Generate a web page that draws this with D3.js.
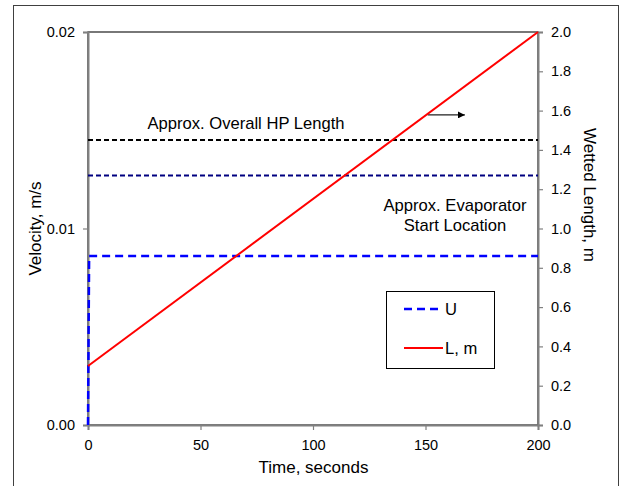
<!DOCTYPE html>
<html>
<head>
<meta charset="utf-8">
<script src="https://cdn.jsdelivr.net/npm/d3@7"></script>
<style>
  html, body { margin: 0; padding: 0; background: #fff; }
  svg { display: block; font-family: "Liberation Sans", Arial, sans-serif; }
</style>
</head>
<body>
<svg id="chart" width="623" height="486"></svg>
<script>
// Wetted length grows linearly with time
const lenTime = [0, 200];
const wettedLength = [0.3, 2.0];

// Velocity steps up at start and stays constant
const velTime = [0, 0.5, 200];
const velocity = [0, 0.0086, 0.0086];

// Reference lengths (right axis, m)
const refNames = ["Approx. Overall HP Length", "Approx. Evaporator Start Location"];
const refValues = [1.45, 1.27];

// Axis ticks
const xTicks = [0, 50, 100, 150, 200];
const yLeftTicks = [0, 0.01, 0.02];
const yRightTicks = [0, 0.2, 0.4, 0.6, 0.8, 1.0, 1.2, 1.4, 1.6, 1.8, 2.0];

// Legend entries
const legendNames = ["U", "L, m"];

const svg = d3.select("#chart");
const plot = { left: 88, right: 538, top: 32, bottom: 425 };

const x = d3.scaleLinear().domain([0, 200]).range([plot.left, plot.right]);
const yL = d3.scaleLinear().domain([0, 0.02]).range([plot.bottom, plot.top]);
const yR = d3.scaleLinear().domain([0, 2.0]).range([plot.bottom, plot.top]);

// Outer chart frame
svg.append("rect")
  .attr("x", 13.5).attr("y", 5.5).attr("width", 605).attr("height", 500)
  .attr("fill", "none").attr("stroke", "#404040").attr("stroke-width", 1);

// Plot-area frame
svg.append("rect")
  .attr("x", plot.left).attr("y", plot.top)
  .attr("width", plot.right - plot.left).attr("height", plot.bottom - plot.top)
  .attr("fill", "none").attr("stroke", "#303030").attr("stroke-width", 1.3);

// Axes
function styleAxis(g) {
  g.selectAll(".domain").attr("stroke", "#808080").attr("stroke-width", 2);
  g.selectAll(".tick line").attr("stroke", "#808080").attr("stroke-width", 1.2);
  g.selectAll(".tick text").attr("fill", "#000").attr("font-size", 14.5)
    .attr("font-family", "Liberation Sans, Arial, sans-serif");
}

svg.append("g")
  .attr("transform", `translate(0,${plot.bottom})`)
  .call(d3.axisBottom(x).tickValues(xTicks).tickFormat(d3.format("d")).tickSizeOuter(0).tickSize(5).tickPadding(10))
  .call(styleAxis);

svg.append("g")
  .attr("transform", `translate(${plot.left},0)`)
  .call(d3.axisLeft(yL).tickValues(yLeftTicks).tickFormat(d3.format(".2f")).tickSizeOuter(0).tickSize(5).tickPadding(8))
  .call(styleAxis);

svg.append("g")
  .attr("transform", `translate(${plot.right},0)`)
  .call(d3.axisRight(yR).tickValues(yRightTicks).tickFormat(d3.format(".1f")).tickSizeOuter(0).tickSize(5).tickPadding(8))
  .call(styleAxis);

// Axis titles
svg.append("text")
  .attr("x", (plot.left + plot.right) / 2 + 0.5).attr("y", 473)
  .attr("text-anchor", "middle").attr("font-size", 17).text("Time, seconds");

svg.append("text")
  .attr("transform", `translate(41,${(plot.top + plot.bottom) / 2}) rotate(-90)`)
  .attr("text-anchor", "middle").attr("font-size", 17).text("Velocity, m/s");

svg.append("text")
  .attr("transform", `translate(584,195) rotate(90)`)
  .attr("text-anchor", "middle").attr("font-size", 17).text("Wetted Length, m");

// Reference lines
const refStyles = [
  { color: "#000000", dash: "5,3", width: 2 },
  { color: "#000080", dash: "5,3", width: 2 }
];
refValues.forEach((v, i) => {
  svg.append("line")
    .attr("x1", x(0)).attr("x2", x(200))
    .attr("y1", yR(v)).attr("y2", yR(v))
    .attr("stroke", refStyles[i].color)
    .attr("stroke-width", refStyles[i].width)
    .attr("stroke-dasharray", refStyles[i].dash);
});

// Annotation labels
svg.append("text")
  .attr("x", 246).attr("y", 129)
  .attr("text-anchor", "middle").attr("font-size", 16.6).text("Approx. Overall HP Length");

const evapLabel = svg.append("text")
  .attr("text-anchor", "middle").attr("font-size", 16.6);
evapLabel.append("tspan").attr("x", 455).attr("y", 211).text("Approx. Evaporator");
evapLabel.append("tspan").attr("x", 455).attr("y", 231).text("Start Location");

// Arrow pointing to the right axis
svg.append("defs").append("marker")
  .attr("id", "arrowhead")
  .attr("viewBox", "0 0 10 10").attr("refX", 10).attr("refY", 5)
  .attr("markerWidth", 7).attr("markerHeight", 7)
  .attr("markerUnits", "userSpaceOnUse")
  .attr("orient", "auto")
  .append("path").attr("d", "M0,0 L10,5 L0,10 Z").attr("fill", "#000");

svg.append("line")
  .attr("x1", x(151)).attr("x2", x(167.5))
  .attr("y1", yR(1.578)).attr("y2", yR(1.578))
  .attr("stroke", "#202020").attr("stroke-width", 1.4)
  .attr("marker-end", "url(#arrowhead)");

// Series
const velLine = d3.line().x(d => x(d[0])).y(d => yL(d[1]));
const lenLine = d3.line().x(d => x(d[0])).y(d => yR(d[1]));

svg.append("path")
  .datum(velTime.map((t, i) => [t, velocity[i]]))
  .attr("d", velLine)
  .attr("fill", "none").attr("stroke", "#0000ff")
  .attr("stroke-width", 2.5).attr("stroke-dasharray", "8,5");

svg.append("path")
  .datum(lenTime.map((t, i) => [t, wettedLength[i]]))
  .attr("d", lenLine)
  .attr("fill", "none").attr("stroke", "#ff0000").attr("stroke-width", 2);

// Legend
const legend = svg.append("g");
legend.append("rect")
  .attr("x", 386.5).attr("y", 291.5).attr("width", 108).attr("height", 77)
  .attr("fill", "#fff").attr("stroke", "#000").attr("stroke-width", 1);

const legendStyles = [
  { color: "#0000ff", dash: "8,5", width: 2.5, y: 309 },
  { color: "#ff0000", dash: null, width: 2, y: 348 }
];
legendNames.forEach((name, i) => {
  const s = legendStyles[i];
  legend.append("line")
    .attr("x1", 404).attr("x2", 443).attr("y1", s.y).attr("y2", s.y)
    .attr("stroke", s.color).attr("stroke-width", s.width)
    .attr("stroke-dasharray", s.dash);
  legend.append("text")
    .attr("x", 445).attr("y", s.y + 6)
    .attr("font-size", 16.6).text(name);
});
</script>
</body>
</html>
